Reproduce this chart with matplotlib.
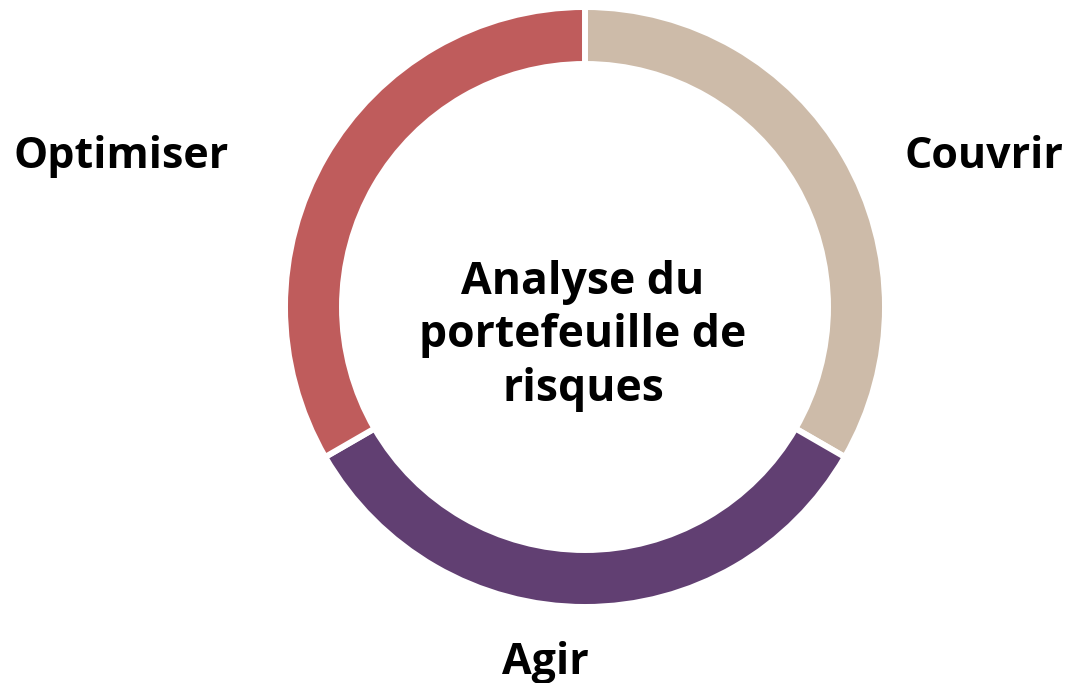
import matplotlib
matplotlib.use("Agg")
import matplotlib.pyplot as plt

# segments of the ring, clockwise from the top
labels = ["Couvrir", "Agir", "Optimiser"]
values = [1, 1, 1]
colors = ["#CDBBA9", "#613F72", "#BF5C5C"]
center_text = "Analyse du\nportefeuille de\nrisques"

plt.rcParams['font.family'] = ['Open Sans', 'DejaVu Sans']

fig = plt.figure(figsize=(10.68, 6.83), dpi=100)
ax = fig.add_axes([0, 0, 1, 1])

# ring in pixel coordinates (y measured from the bottom)
cx, cy = 585, 376
ax.pie(values, colors=colors, startangle=90, counterclock=False,
       center=(cx, cy), radius=300,
       wedgeprops=dict(width=57, edgecolor='white', linewidth=4.3))
ax.set_xlim(0, 1068)
ax.set_ylim(0, 683)
ax.set_aspect('equal')
ax.axis('off')

label_pos = {"Couvrir": (984, 527), "Agir": (545, 20), "Optimiser": (121, 527)}
for lab in labels:
    x, y = label_pos[lab]
    ax.text(x, y, lab, ha='center', va='center', fontsize=31, fontweight='bold', color='black')

ax.text(cx - 2, 347, center_text, ha='center', va='center', fontsize=32,
        fontweight='bold', color='black', linespacing=1.25)

fig.savefig("out.png", dpi=100)
